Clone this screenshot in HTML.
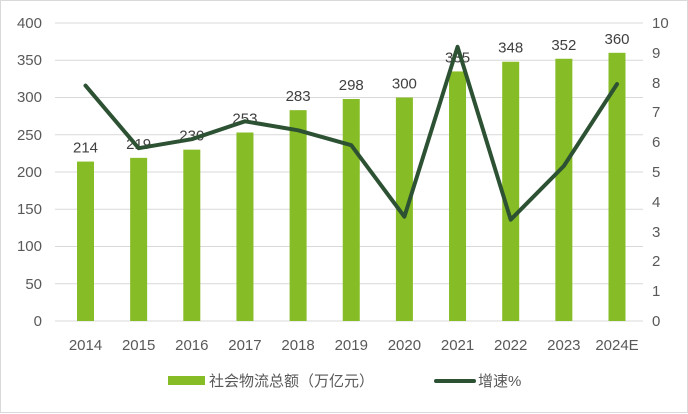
<!DOCTYPE html>
<html><head><meta charset="utf-8"><style>
body{margin:0;background:#fff}
svg{display:block;font-family:"Liberation Sans","Noto Sans CJK SC",sans-serif}
</style></head><body>
<svg width="688" height="414" viewBox="0 0 688 414">
<rect x="0.5" y="0.5" width="687" height="412" fill="#fff" stroke="#d9d9d9"/>
<g stroke="#d9d9d9" stroke-width="1">
<line x1="55" x2="643" y1="23" y2="23"/><line x1="55" x2="643" y1="60.25" y2="60.25"/>
<line x1="55" x2="643" y1="97.5" y2="97.5"/><line x1="55" x2="643" y1="134.75" y2="134.75"/>
<line x1="55" x2="643" y1="172" y2="172"/><line x1="55" x2="643" y1="209.25" y2="209.25"/>
<line x1="55" x2="643" y1="246.5" y2="246.5"/><line x1="55" x2="643" y1="283.75" y2="283.75"/>
<line x1="55" x2="643" y1="321" y2="321"/>
</g>
<g fill="#595959" font-size="15" text-anchor="end">
<text x="42" y="28">400</text><text x="42" y="65">350</text><text x="42" y="102">300</text>
<text x="42" y="140">250</text><text x="42" y="177">200</text><text x="42" y="214">150</text>
<text x="42" y="251">100</text><text x="42" y="289">50</text><text x="42" y="326">0</text>
</g>
<g fill="#595959" font-size="15" text-anchor="start">
<text x="652" y="28">10</text><text x="652" y="58">9</text><text x="652" y="88">8</text>
<text x="652" y="117">7</text><text x="652" y="147">6</text><text x="652" y="177">5</text>
<text x="652" y="207">4</text><text x="652" y="237">3</text><text x="652" y="266">2</text>
<text x="652" y="296">1</text><text x="652" y="326">0</text>
</g>
<g fill="#86bc25">
<rect x="77" y="161.57" width="17" height="159.43"/>
<rect x="130.15" y="157.85" width="17" height="163.15"/>
<rect x="183.3" y="149.65" width="17" height="171.35"/>
<rect x="236.45" y="132.52" width="17" height="188.48"/>
<rect x="289.6" y="110.17" width="17" height="210.83"/>
<rect x="342.75" y="99" width="17" height="222"/>
<rect x="395.9" y="97.5" width="17" height="223.5"/>
<rect x="449.05" y="71.43" width="17" height="249.57"/>
<rect x="502.2" y="61.74" width="17" height="259.26"/>
<rect x="555.35" y="58.76" width="17" height="262.24"/>
<rect x="608.5" y="52.8" width="17" height="268.2"/>
</g>
<g fill="#404040" font-size="15" text-anchor="middle">
<text x="85.5" y="152.5">214</text>
<text x="138.65" y="148.8">219</text>
<text x="191.8" y="140.6">230</text>
<text x="244.95" y="123.5">253</text>
<text x="298.1" y="101.2">283</text>
<text x="351.25" y="90">298</text>
<text x="404.4" y="88.5">300</text>
<text x="457.55" y="62.4">335</text>
<text x="510.7" y="52.7">348</text>
<text x="563.85" y="49.8">352</text>
<text x="617" y="43.8">360</text>
</g>
<g fill="#595959" font-size="15" text-anchor="middle">
<text x="85.5" y="350">2014</text><text x="138.65" y="350">2015</text><text x="191.8" y="350">2016</text>
<text x="244.95" y="350">2017</text><text x="298.1" y="350">2018</text><text x="351.25" y="350">2019</text>
<text x="404.4" y="350">2020</text><text x="457.55" y="350">2021</text><text x="510.7" y="350">2022</text>
<text x="563.85" y="350">2023</text><text x="617" y="350">2024E</text>
</g>
<polyline points="85.5,85.6 138.65,148.2 191.8,139.2 244.95,121.3 298.1,130.3 351.25,145.2 404.4,216.7 457.55,46.8 510.7,219.7 563.85,166 617,84.1" fill="none" stroke="#2d5233" stroke-width="4" stroke-linejoin="round" stroke-linecap="round"/>
<rect x="168" y="376" width="37" height="9" fill="#86bc25"/>
<text x="209" y="386" font-size="15" fill="#595959">社会物流总额（万亿元）</text>
<line x1="436" x2="474" y1="381" y2="381" stroke="#2d5233" stroke-width="4" stroke-linecap="round"/>
<text x="478" y="386" font-size="15" fill="#595959">增速%</text>
</svg>
</body></html>
